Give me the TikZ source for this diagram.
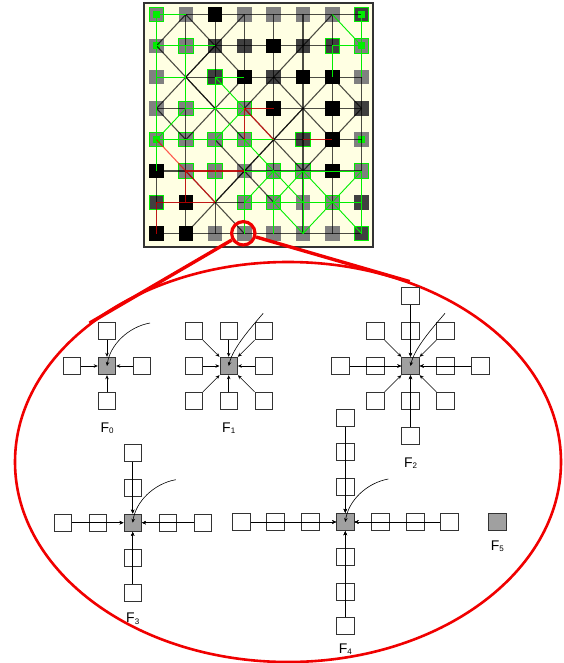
\documentclass[tikz,border=0pt]{standalone}
\usepackage{fontspec}
\setsansfont{Liberation Sans}
\usetikzlibrary{arrows.meta, positioning, shapes.geometric, calc}
\definecolor{boardbg}{HTML}{FFFFE3}
\definecolor{cellgray}{HTML}{808080}
\definecolor{celldark}{HTML}{404040}
\definecolor{markgreen}{HTML}{00EE00}
\definecolor{hubgray}{HTML}{A0A0A0}
\definecolor{zoomred}{HTML}{F00000}
\newcommand{\fsub}[1]{F\raisebox{-1.5pt}{\fontsize{8}{8}\selectfont #1}}

\begin{document}
\begin{tikzpicture}[
    x=1pt, y=-1pt,
    board/.style={rectangle, fill=boardbg, draw=black!80, line width=1.3pt,
                  minimum width=229pt, minimum height=244pt},
    cell/.style={rectangle, minimum size=14.5pt, inner sep=0pt},
    gcell/.style={cell, fill=cellgray},
    dcell/.style={cell, fill=celldark},
    kcell/.style={cell, fill=black},
    gring/.style={gcell, draw=markgreen, line width=1pt},
    dring/.style={dcell, draw=markgreen, line width=1pt},
    dot/.style={rectangle, fill=markgreen, minimum size=7pt, inner sep=0pt},
    blackline/.style={draw=black, opacity=0.7, line width=1.1pt},
    greenline/.style={draw=markgreen, line width=0.9pt},
    redline/.style={draw=red, opacity=0.65, line width=1.1pt},
    lens/.style={circle, draw=zoomred, line width=3.2pt, minimum size=23.4pt, inner sep=0pt},
    zoomline/.style={draw=zoomred, line width=3.4pt},
    zoomview/.style={ellipse, draw=zoomred, line width=2.6pt, minimum width=546pt,
                     minimum height=400pt, inner sep=0pt},
    box/.style={rectangle, draw=black!80, fill=white, line width=0.9pt,
                minimum size=17.5pt, inner sep=0pt},
    hub/.style={box, fill=hubgray},
    arr/.style={-{Stealth[length=4pt, width=3.5pt]}, line width=0.6pt},
    lbl/.style={font=\sffamily\fontsize{14}{16}\selectfont, inner sep=1pt}
  ]
  \useasboundingbox (0,0) rectangle (563,663);

  % the board
  \node[board] (board) at (258.5,125) {};
  \foreach \c in {1,...,8}
    \foreach \r in {1,...,8}
      \coordinate (p\c\r) at ({156.5+29.3*(\c-1)},{14.5+31.3*(\r-1)});
  \foreach \c/\r/\s in {1/1/gring, 2/1/gcell, 3/1/kcell, 4/1/gcell, 5/1/gcell, 6/1/gcell, 7/1/gcell, 8/1/dring,
      1/2/gcell, 2/2/gring, 3/2/dcell, 4/2/dcell, 5/2/kcell, 6/2/dcell, 7/2/dring, 8/2/gring,
      1/3/gcell, 3/3/dring, 4/3/kcell, 5/3/dcell, 6/3/kcell, 7/3/kcell, 8/3/gcell,
      1/4/gcell, 2/4/gring, 4/4/gring, 5/4/kcell, 7/4/kcell, 8/4/dcell,
      1/5/gring, 2/5/gring, 3/5/gring, 4/5/gring, 6/5/dring, 7/5/kcell, 8/5/gcell,
      1/6/kcell, 2/6/gring, 3/6/gring, 4/6/gcell, 5/6/gring, 6/6/gring, 7/6/kcell, 8/6/gring,
      1/7/dring, 2/7/kcell, 4/7/gring, 5/7/gring, 6/7/gcell, 7/7/gring, 8/7/dcell,
      1/8/kcell, 2/8/kcell, 3/8/gcell, 4/8/gcell, 5/8/gcell, 6/8/gcell, 7/8/gcell, 8/8/dring}
    \node[\s] (cell\c\r) at (p\c\r) {};
  \foreach \p in {11,81,12,82,15,85}
    \node[dot] (dot\p) at (p\p) {};

  % rows, columns and diagonals
  \foreach \a/\b in {21/81, 12/82, 13/83, 14/84, 15/85, 16/86, 17/87, 18/88,
      12/18, 21/28, 31/38, 41/48, 51/58, 61/68, 71/78, 83/88,
      21/43, 41/23, 12/34, 32/14, 23/45, 43/25, 53/75, 73/55, 44/66, 64/46,
      35/57, 55/37, 26/48, 46/28, 12/21, 14/25, 71/53, 53/44, 66/84, 73/84}
    \draw[blackline] (p\a) -- (p\b);
  \foreach \a/\b in {11/21, 11/16, 12/32, 22/24, 13/23, 33/43, 33/37, 33/44, 44/35,
      15/24, 24/44, 15/55, 45/48, 46/86, 47/87, 45/56, 56/47, 56/67, 66/57, 66/77,
      57/68, 68/77, 77/86, 77/88, 56/58, 66/68, 86/88, 71/82, 81/83, 72/82, 72/73}
    \draw[greenline] (p\a) -- (p\b);
  \foreach \a/\b in {44/54, 44/55, 44/45, 65/75, 15/26, 26/46, 26/37, 26/27, 17/37, 17/18}
    \draw[redline] (p\a) -- (p\b);

  % magnifier
  \node[lens] (lens) at (243.3,233.3) {};
  \node[zoomview] (zoomview) at (288,462) {};
  \draw[zoomline] (lens) -- (zoomview.145);
  \draw[zoomline] (lens) -- (zoomview.56);

  % F0
  \node[hub] (f0) at (107,366) {};
  \foreach \dx/\dy [count=\i] in {0/-35, -35/0, 35/0, 0/35}
    \node[box] (f0n\i) at ($(f0)+(\dx,\dy)$) {};
  \foreach \i in {1,...,4} \draw[arr] (f0n\i) -- (f0);
  \coordinate (f0t) at ($(f0)+(43,-43)$);
  \draw[arr] (f0t) .. controls +(-22,4) and +(3,-21) .. (f0.center);
  \node[lbl, below=11pt of f0n4] (f0lbl) {\fsub{0}};

  % F1
  \node[hub] (f1) at (228.7,366) {};
  \foreach \dx/\dy [count=\i] in {-35/-35, 0/-35, 35/-35, -35/0, 35/0, -35/35, 0/35, 35/35}
    \node[box] (f1n\i) at ($(f1)+(\dx,\dy)$) {};
  \foreach \i in {1,...,8} \draw[arr] (f1n\i) -- (f1);
  \coordinate (f1t) at ($(f1)+(34.5,-52.7)$);
  \draw[arr] (f1t) .. controls +(-12,14) and +(4,-18) .. (f1.center);
  \node[lbl, below=11pt of f1n7] (f1lbl) {\fsub{1}};

  % F2
  \node[hub] (f2) at (410.5,366) {};
  \foreach \dx/\dy [count=\i] in {-35/-35, 0/-35, 35/-35, -35/0, 35/0, -35/35, 0/35, 35/35,
      0/-70, -70/0, 70/0, 0/70}
    \node[box] (f2n\i) at ($(f2)+(\dx,\dy)$) {};
  \foreach \i in {1,...,12} \draw[arr] (f2n\i) -- (f2);
  \coordinate (f2t) at ($(f2)+(34.5,-52.7)$);
  \draw[arr] (f2t) .. controls +(-12,14) and +(4,-18) .. (f2.center);
  \node[lbl, below=11pt of f2n12] (f2lbl) {\fsub{2}};

  % F3
  \node[hub] (f3) at (132.7,522.7) {};
  \foreach \dx/\dy [count=\i] in {0/-35, -35/0, 35/0, 0/35, 0/-70, -70/0, 70/0, 0/70}
    \node[box] (f3n\i) at ($(f3)+(\dx,\dy)$) {};
  \foreach \i in {1,...,8} \draw[arr] (f3n\i) -- (f3);
  \coordinate (f3t) at ($(f3)+(43,-43)$);
  \draw[arr] (f3t) .. controls +(-22,4) and +(3,-21) .. (f3.center);
  \node[lbl, below=10pt of f3n8] (f3lbl) {\fsub{3}};

  % F4
  \node[hub] (f4) at (345.3,522) {};
  \foreach \dx/\dy [count=\i] in {0/-35, -35/0, 35/0, 0/35, 0/-70, -70/0, 70/0, 0/70,
      0/-104, -104/0, 104/0, 0/104}
    \node[box] (f4n\i) at ($(f4)+(\dx,\dy)$) {};
  \foreach \i in {1,...,12} \draw[arr] (f4n\i) -- (f4);
  \coordinate (f4t) at ($(f4)+(43,-43)$);
  \draw[arr] (f4t) .. controls +(-22,4) and +(3,-21) .. (f4.center);
  \node[lbl, below=7pt of f4n12] (f4lbl) {\fsub{4}};

  % F5
  \node[hub] (f5) at (497.3,522) {};
  \node[lbl, below=8pt of f5] (f5lbl) {\fsub{5}};
\end{tikzpicture}
\end{document}
